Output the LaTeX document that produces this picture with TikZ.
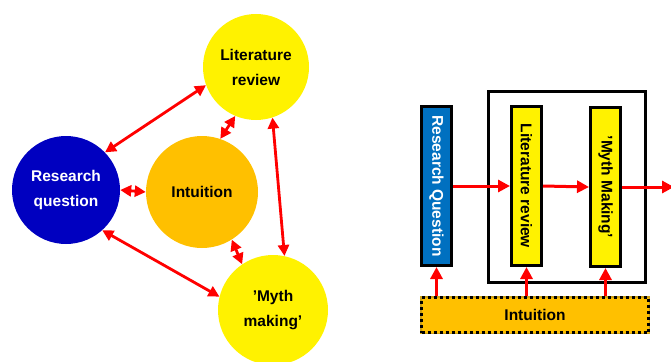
\documentclass[tikz,border=0pt]{standalone}
\usepackage{fontspec}
\setmainfont{Liberation Sans}
\usetikzlibrary{arrows.meta}
\definecolor{navy}{RGB}{0,0,192}
\definecolor{ocean}{RGB}{0,112,192}
\definecolor{amber}{RGB}{255,192,0}
\definecolor{gapgold}{RGB}{205,160,20}
\begin{document}
\begin{tikzpicture}[x=1pt,y=-1pt,
	  bubble/.style={circle,inner sep=0pt,align=center,font=\bfseries\fontsize{15.5}{25}\selectfont},
	  bar/.style={draw=black,line width=3pt,rotate=-90,minimum width=159pt,minimum height=30pt,inner sep=0pt,font=\bfseries\fontsize{15.5}{18}\selectfont},
	  link/.style={red,line width=2.8pt,{Triangle[length=11pt,width=11pt]}-{Triangle[length=11pt,width=11pt]}},
	  flow/.style={red,line width=3pt,-{Triangle[length=12pt,width=12pt]}}]
	  \useasboundingbox (0,0) rectangle (671,361);
	  % left: circles
	  \node[bubble,fill=yellow,minimum size=106pt] (lit) at (256,67) {Literature\\review};
	  \node[bubble,fill=navy,text=white,minimum size=108pt] (rq) at (66,190) {Research\\question};
	  \node[bubble,fill=amber,minimum size=112pt] (int) at (202,192) {Intuition};
	  \node[bubble,fill=yellow,minimum size=110pt] (myth) at (273,310) {’Myth\\making’};
	  \draw[link] (rq.44) -- (lit.200);
	  \draw[link] (lit.-113) -- (int.71);
	  \draw[link] (lit.-72) -- (myth.78);
	  \draw[link] (rq.east) -- (int.west);
	  \draw[link] (rq.-48) -- (myth.166);
	  \draw[link] (int.-58) -- (myth.124);
	  % right: boxes
	  \node[draw=black,line width=3pt,minimum width=157pt,minimum height=191pt] (frame) at (567,187) {};
	  \node[bar,fill=ocean,text=white] (rqbar) at (436.5,186) {Research Question};
	  \node[bar,fill=yellow] (litbar) at (526.5,186) {Literature review};
	  \node[bar,fill=yellow] (mythbar) at (605.5,187) {’Myth Making’};
	  \node[fill=amber,draw=black,line width=3pt,dash pattern=on 3pt off 3pt,
	        preaction={draw=gapgold,solid,line width=3pt},
	        minimum width=227pt,minimum height=35pt,
	        font=\bfseries\fontsize{15.5}{18}\selectfont] (intbar) at (535,315) {Intuition};
	  \coordinate (exit) at (674,187);
	  \draw[flow] (rqbar.north) -- (litbar.south);
	  \draw[flow] (litbar.north) -- (mythbar.south);
	  \draw[flow] (mythbar.north) -- (exit);
	  \draw[flow] (intbar.north -| rqbar.east) -- (rqbar.east);
	  \draw[flow] (intbar.north -| litbar.east) -- (litbar.east);
	  \draw[flow] (intbar.north -| mythbar.east) -- (mythbar.east);
	\end{tikzpicture}
\end{document}
